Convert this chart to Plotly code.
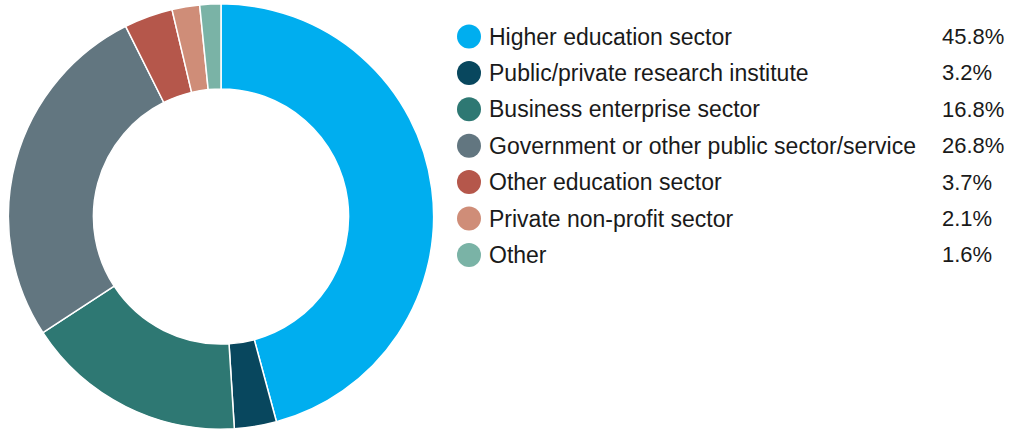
import plotly.graph_objects as go

# Sector shares (percent)
sectors = [
    "Higher education sector",
    "Public/private research institute",
    "Business enterprise sector",
    "Government or other public sector/service",
    "Other education sector",
    "Private non-profit sector",
    "Other",
]
shares = [45.8, 3.2, 16.8, 26.8, 3.7, 2.1, 1.6]
colors = ["#00AEEF", "#08475E", "#2E7873", "#627680", "#B5574B", "#CF8D78", "#7AB3A6"]

W, H = 1010, 430
FONT = "Liberation Sans, Arial, Helvetica, sans-serif"
TEXT_COLOR = "#1a1a1a"

fig = go.Figure()

# Donut
fig.add_trace(go.Pie(
    labels=sectors,
    values=shares,
    sort=False,
    direction="clockwise",
    rotation=0,
    hole=0.6,
    textinfo="none",
    marker=dict(colors=colors, line=dict(color="white", width=1.5)),
    domain=dict(x=[8 / W, 434 / W], y=[0.002, 0.991]),
    showlegend=False,
))

# Custom legend: rows on an overlay axis, row i centred at pixel row0 + row_step*i
row0, row_step = 36.5, 36.4
y_top = -row0 / row_step
y_bot = (H - row0) / row_step
rows = list(range(len(sectors)))

fig.add_trace(go.Scatter(
    x=[469] * len(sectors),
    y=rows,
    mode="markers",
    marker=dict(size=24, color=colors, line=dict(width=0)),
    xaxis="x2", yaxis="y2",
    showlegend=False,
    hoverinfo="skip",
))

for i, (name, val) in enumerate(zip(sectors, shares)):
    fig.add_annotation(x=487, y=i, xref="x2", yref="y2", text=name,
                       xanchor="left", yanchor="middle", showarrow=False,
                       font=dict(family=FONT, size=23, color=TEXT_COLOR))
    fig.add_annotation(x=940, y=i, xref="x2", yref="y2", text=f"{val:.1f}%",
                       xanchor="left", yanchor="middle", showarrow=False,
                       font=dict(family=FONT, size=22, color=TEXT_COLOR))

fig.update_layout(
    width=W, height=H,
    margin=dict(l=0, r=0, t=0, b=0),
    paper_bgcolor="white",
    plot_bgcolor="rgba(0,0,0,0)",
    xaxis2=dict(domain=[0, 1], range=[0, W], visible=False, fixedrange=True),
    yaxis2=dict(domain=[0, 1], range=[y_bot, y_top], visible=False, fixedrange=True,
                anchor="x2"),
    font=dict(family=FONT),
)

fig.write_html("out.html")
